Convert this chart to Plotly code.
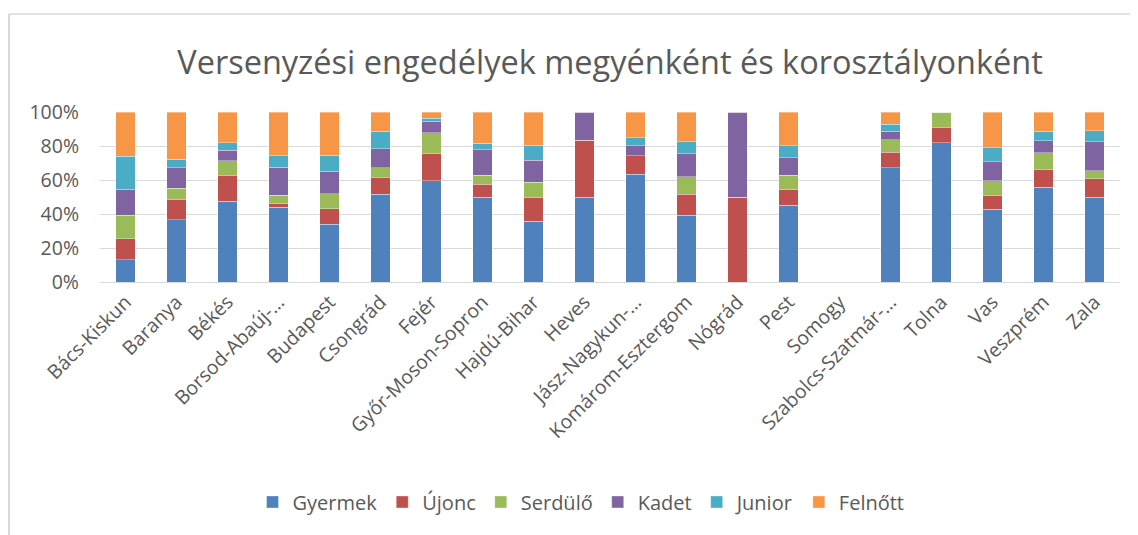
import plotly.graph_objects as go

megyek = ["Bács-Kiskun", "Baranya", "Békés", "Borsod-Abaúj-…", "Budapest", "Csongrád",
          "Fejér", "Győr-Moson-Sopron", "Hajdú-Bihar", "Heves", "Jász-Nagykun-…",
          "Komárom-Esztergom", "Nógrád", "Pest", "Somogy", "Szabolcs-Szatmár-…",
          "Tolna", "Vas", "Veszprém", "Zala"]

gyermek = [13.2, 36.7, 47.5, 44.0, 34.1, 51.5, 59.6, 49.9, 35.7, 50.0, 63.5, 39.3, 0, 45.2, None, 67.1, 81.8, 42.8, 55.8, 50.0]
ujonc   = [12.2, 11.8, 15.2, 2.2, 9.1, 10.0, 15.7, 7.5, 13.8, 33.3, 10.7, 12.2, 50.0, 9.2, None, 9.2, 9.1, 8.3, 10.5, 10.7]
serdulo = [13.9, 6.7, 8.5, 4.9, 8.7, 5.8, 12.5, 5.5, 9.3, 0, 0, 10.4, 0, 8.3, None, 7.3, 9.1, 8.5, 9.8, 4.9]
kadet   = [15.2, 11.9, 6.3, 16.4, 13.2, 11.2, 6.9, 14.8, 12.8, 16.7, 5.9, 13.4, 50.0, 10.5, None, 5.2, 0, 11.0, 7.1, 17.1]
junior  = [19.5, 5.1, 4.4, 6.9, 9.5, 10.1, 1.7, 4.0, 8.7, 0, 4.7, 7.3, 0, 6.9, None, 3.9, 0, 8.5, 5.4, 6.4]
felnott = [26.0, 27.8, 18.1, 25.6, 25.4, 11.4, 3.6, 18.3, 19.7, 0, 15.2, 17.4, 0, 19.9, None, 7.3, 0, 20.9, 11.4, 11.0]

y_ticks = [0, 20, 40, 60, 80, 100]
y_tick_labels = ["0%", "20%", "40%", "60%", "80%", "100%"]

series = [
    ("Gyermek", gyermek, "#4F81BD"),
    ("Újonc", ujonc, "#C0504D"),
    ("Serdülő", serdulo, "#9BBB59"),
    ("Kadet", kadet, "#8064A2"),
    ("Junior", junior, "#4BACC6"),
    ("Felnőtt", felnott, "#F79646"),
]

FONT = "Open Sans"
GRAY = "#595959"
OFF = 8  # page body margin

fig = go.Figure()
for name, vals, color in series:
    fig.add_trace(go.Bar(
        name=name, x=megyek, y=vals,
        marker=dict(color=color, line=dict(color="rgba(255,255,255,0.35)", width=1)),
    ))

fig.update_layout(
    width=1138 - OFF, height=535 - OFF,
    barmode="stack", barnorm="percent", bargap=0.62,
    paper_bgcolor="white", plot_bgcolor="white",
    margin=dict(l=100 - OFF, r=18, t=112 - OFF, b=253, autoexpand=False),
    font=dict(family=FONT, color=GRAY, size=19),
    title=dict(text="Versenyzési engedélyek megyénként és korosztályonként",
               x=0.5, xref="paper", xanchor="center",
               y=1 - (63 - OFF) / (535 - OFF), yref="container", yanchor="middle",
               font=dict(family=FONT, size=32.5, color=GRAY)),
    legend=dict(orientation="h", x=0.4716, xanchor="center", y=-1.294, yanchor="middle",
                font=dict(family=FONT, size=20, color=GRAY), traceorder="normal",
                itemwidth=30, tracegroupgap=0),
    xaxis=dict(tickangle=-45, showgrid=False, showline=True, linecolor="#d9d9d9", linewidth=1,
               tickfont=dict(family=FONT, size=19.5, color=GRAY), ticks=""),
    yaxis=dict(range=[0, 100], tickmode="array", tickvals=y_ticks, ticktext=y_tick_labels,
               showgrid=True, gridcolor="#d9d9d9", gridwidth=1, zeroline=False,
               tickfont=dict(family=FONT, size=19.5, color=GRAY), ticks="", ticklabelstandoff=20),
    shapes=[
        dict(type="line", xref="paper", yref="paper",
             x0=(9 - 100) / 1020, x1=(1138 - 100) / 1020,
             y0=(282 - 14) / 170, y1=(282 - 14) / 170,
             line=dict(color="#d9d9d9", width=1.5)),
        dict(type="line", xref="paper", yref="paper",
             x0=(9 - 100) / 1020, x1=(9 - 100) / 1020,
             y0=(282 - 14) / 170, y1=(282 - 535) / 170,
             line=dict(color="#d9d9d9", width=2)),
    ],
)

fig.write_html("out.html")
